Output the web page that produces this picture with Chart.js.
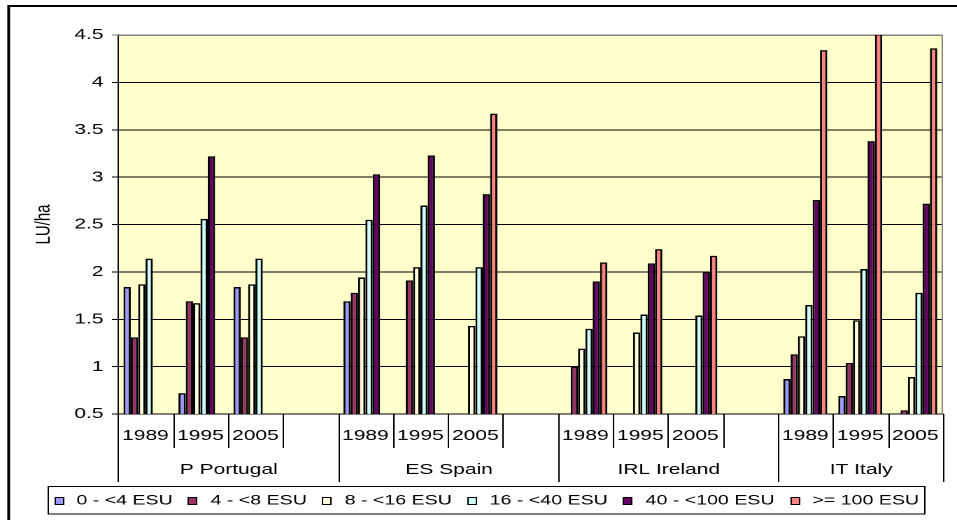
<!DOCTYPE html>
<html>
<head>
<meta charset="utf-8">
<title>LU/ha by economic size class</title>
<script src="https://cdn.jsdelivr.net/npm/chart.js@4.4.1/dist/chart.umd.min.js"></script>
<style>
  html, body { margin: 0; padding: 0; background: #fff; overflow: hidden; }
  /* the source picture is stretched sideways, so draw narrower and widen it */
  #wrap { width: 684px; height: 520px; transform: scaleX(1.3991); transform-origin: 0 0; }
</style>
</head>
<body>
<div id="wrap"><canvas id="chart" width="684" height="520"></canvas></div>
<script>
const countries = ['P Portugal', 'ES Spain', 'IRL Ireland', 'IT Italy'];
const years = ['1989', '1995', '2005'];
// three years per country plus an empty spacer slot (none after the last one)
const slotLabels = countries.flatMap((c, i) => i < countries.length - 1 ? [...years, ''] : years);

const seriesNames = ['0 - <4 ESU', '4 - <8 ESU', '8 - <16 ESU', '16 - <40 ESU', '40 - <100 ESU', '>= 100 ESU'];
const seriesColors = ['#9999FF', '#993366', '#FFFFDD', '#CCFFFF', '#660066', '#FF8080'];

//                P89   P95   P05   -     ES89  ES95  ES05  -     IRL89 IRL95 IRL05 -     IT89  IT95  IT05
const esu0to4   = [1.84, 0.72, 1.84, null, 1.69, null, null, null, null, null, null, null, 0.87, 0.69, null];
const esu4to8   = [1.31, 1.69, 1.31, null, 1.78, 1.91, null, null, 1.00, null, null, null, 1.13, 1.04, 0.54];
const esu8to16  = [1.87, 1.67, 1.87, null, 1.94, 2.05, 1.43, null, 1.19, 1.36, null, null, 1.32, 1.49, 0.89];
const esu16to40 = [2.14, 2.56, 2.14, null, 2.55, 2.70, 2.05, null, 1.40, 1.55, 1.54, null, 1.65, 2.03, 1.78];
const esu40to100 = [null, 3.22, null, null, 3.03, 3.23, 2.82, null, 1.90, 2.09, 2.00, null, 2.76, 3.38, 2.72];
const esu100plus = [null, null, null, null, null, null, 3.67, null, 2.10, 2.24, 2.17, null, 4.34, 4.51, 4.36];
const seriesValues = [esu0to4, esu4to8, esu8to16, esu16to40, esu40to100, esu100plus];

const FONT = '"Liberation Sans", Arial, sans-serif';

// slot ranges of each country on the category axis
const groups = [];
let slot = 0;
countries.forEach((c, i) => {
    const size = years.length + (i < countries.length - 1 ? 1 : 0);
    groups.push([slot, slot + size]);
    slot += size;
});

const excelLook = {
    id: 'excelLook',
    beforeDraw(chart) {
        const { ctx, chartArea: a } = chart;
        ctx.save();
        ctx.fillStyle = '#fff';
        ctx.fillRect(0, 0, chart.width, chart.height);
        ctx.fillStyle = '#FFFFCC';
        ctx.fillRect(a.left, a.top, a.right - a.left, a.bottom - a.top);
        ctx.restore();
    },
    beforeDatasetsDraw(chart) {
        const { ctx, chartArea: a } = chart;
        const t = Math.round(a.top) + 0.5, r = Math.round(a.right) - 0.5;
        ctx.save();
        ctx.strokeStyle = '#808080';
        ctx.lineWidth = 1;
        ctx.beginPath();
        ctx.moveTo(a.left, t);
        ctx.lineTo(r, t);
        ctx.lineTo(r, a.bottom);
        ctx.stroke();
        ctx.restore();
    },
    afterDraw(chart) {
        const { ctx, chartArea: a } = chart;
        const x = chart.scales.x;
        const step = x.getPixelForValue(1) - x.getPixelForValue(0);
        const edge = i => Math.round(x.getPixelForValue(i) - step / 2) + 0.5;
        const countryEdges = new Set(groups.flat());

        ctx.save();
        ctx.strokeStyle = '#000';
        ctx.lineWidth = 1;
        for (let i = 0; i <= slotLabels.length; i++) {
            const px = edge(i);
            ctx.beginPath();
            ctx.moveTo(px, a.bottom);
            ctx.lineTo(px, a.bottom + (countryEdges.has(i) ? 68 : 34));
            ctx.stroke();
        }

        ctx.fillStyle = '#000';
        ctx.font = '15px ' + FONT;
        ctx.textAlign = 'center';
        ctx.textBaseline = 'middle';
        groups.forEach(([s, e], i) => ctx.fillText(countries[i], (edge(s) + edge(e)) / 2, a.bottom + 56));

        // legend box
        const box = { left: 34.5, top: 486.5, right: 661, bottom: 514 };
        ctx.fillStyle = '#fff';
        ctx.fillRect(box.left, box.top, box.right - box.left, box.bottom - box.top);
        ctx.strokeRect(box.left, box.top, box.right - box.left, box.bottom - box.top);

        ctx.font = '14px ' + FONT;
        ctx.textAlign = 'left';
        const sw = 6, sh = 7, gapIn = 10, gapOut = 11;
        const widths = chart.data.datasets.map(ds => ctx.measureText(ds.label).width);
        const total = widths.reduce((s, w) => s + sw + gapIn + w, 0) + gapOut * (widths.length - 1);
        const cy = (box.top + box.bottom) / 2;
        let lx = (box.left + box.right) / 2 - total / 2;
        chart.data.datasets.forEach((ds, i) => {
            const bx = Math.round(lx) + 0.5, by = Math.round(cy - sh / 2) + 0.5;
            ctx.fillStyle = ds.backgroundColor;
            ctx.fillRect(bx, by, sw, sh);
            ctx.strokeRect(bx, by, sw, sh);
            ctx.fillStyle = '#000';
            ctx.fillText(ds.label, lx + sw + gapIn, cy + 0.5);
            lx += sw + gapIn + widths[i] + gapOut;
        });

        // outer chart frame
        ctx.lineWidth = 2;
        ctx.strokeRect(6.2, 6, chart.width + 20, chart.height + 20);
        ctx.restore();
    }
};

Chart.defaults.font.family = FONT;
Chart.defaults.font.size = 15;
Chart.defaults.color = '#000';

new Chart(document.getElementById('chart'), {
    type: 'bar',
    data: {
        labels: slotLabels,
        datasets: seriesNames.map((name, i) => ({
            label: name,
            data: seriesValues[i],
            backgroundColor: seriesColors[i],
            borderColor: '#000',
            borderWidth: 1.5,
            categoryPercentage: 0.8,
            barPercentage: 1
        }))
    },
    options: {
        responsive: false,
        animation: false,
        devicePixelRatio: 2,
        layout: { padding: { top: 35, right: 4.3, bottom: 0, left: 0 } },
        plugins: { legend: { display: false }, tooltip: { enabled: false } },
        scales: {
            x: {
                grid: { display: false, drawTicks: false },
                border: { display: true, color: '#000', width: 1 },
                ticks: { autoSkip: false, maxRotation: 0, padding: 13, font: { size: 15 } },
                afterFit: s => { s.height = 106; }
            },
            y: {
                min: 0.5,
                max: 4.5,
                ticks: { stepSize: 0.5, padding: 6, font: { size: 15 }, callback: v => String(v) },
                grid: {
                    color: c => (c.tick && c.tick.value === 4.5 ? '#808080' : '#000'),
                    drawTicks: true,
                    tickLength: 4.3
                },
                border: { display: true, color: '#000', width: 1 },
                title: { display: true, text: 'LU/ha', font: { size: 15 }, padding: { top: 22.5, bottom: 0 } },
                afterFit: s => { s.width = 84.3; }
            }
        }
    },
    plugins: [excelLook]
});
</script>
</body>
</html>
